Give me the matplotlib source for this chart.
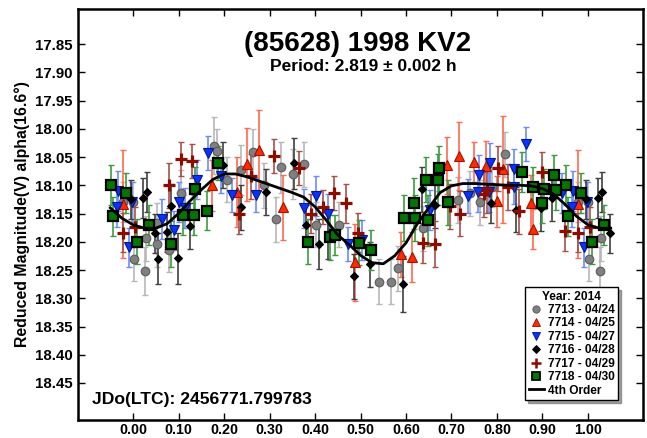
import numpy as np
import matplotlib
matplotlib.use('Agg')
import matplotlib.pyplot as plt
from matplotlib.lines import Line2D

plt.rcParams['font.family'] = ['Liberation Sans', 'DejaVu Sans']
plt.rcParams['font.weight'] = 'bold'

# session data: rotational phase, reduced magnitude, error
ph_7713 = [0.000, 0.002, 0.026, 0.029, 0.053, 0.053, 0.079, 0.105, 0.178, 0.185,
           0.207, 0.237, 0.264, 0.288, 0.314, 0.325, 0.352, 0.376, 0.402, 0.453,
           0.541, 0.567, 0.582, 0.637, 0.714, 0.740, 0.763, 0.790, 0.818, 0.978]
mag_7713 = [18.130, 18.230, 18.252, 18.194, 18.167, 18.204, 18.215, 18.113, 18.030, 18.040,
            18.090, 18.073, 18.041, 18.100, 18.160, 18.068, 18.080, 18.063, 18.170, 18.170,
            18.271, 18.271, 18.247, 18.176, 18.126, 18.114, 18.130, 18.103, 18.045, 18.130]
err_7713 = [0.035, 0.040, 0.042, 0.040, 0.035, 0.040, 0.038, 0.040, 0.050, 0.040,
            0.040, 0.045, 0.040, 0.040, 0.040, 0.045, 0.045, 0.040, 0.040, 0.040,
            0.040, 0.040, 0.040, 0.040, 0.040, 0.040, 0.040, 0.035, 0.040, 0.035]

ph_7714 = [0.173, 0.229, 0.251, 0.277, 0.330, 0.488, 0.589, 0.613, 0.690, 0.716,
           0.750, 0.776, 0.800, 0.813, 0.875, 0.879, 0.978]
mag_7714 = [18.100, 18.112, 18.063, 18.038, 18.139, 18.236, 18.222, 18.227, 18.065, 18.048,
            18.059, 18.066, 18.128, 18.072, 18.132, 18.177, 18.133]
err_7714 = [0.045, 0.062, 0.065, 0.072, 0.058, 0.068, 0.040, 0.045, 0.050, 0.060,
            0.035, 0.045, 0.045, 0.095, 0.050, 0.035, 0.095]

ph_7715 = [0.064, 0.090, 0.101, 0.114, 0.141, 0.165, 0.193, 0.218, 0.270, 0.376,
           0.402, 0.429, 0.473, 0.503, 0.653, 0.736, 0.758, 0.760, 0.782, 0.785,
           0.837, 0.837, 0.864, 0.943, 0.965, 0.967, 0.991, 0.998]
mag_7715 = [18.160, 18.180, 18.130, 18.140, 18.090, 18.043, 18.084, 18.117, 18.117, 18.141,
            18.119, 18.150, 18.204, 18.197, 18.144, 18.119, 18.112, 18.081, 18.112, 18.061,
            18.071, 18.103, 18.027, 18.114, 18.139, 18.110, 18.210, 18.130]
err_7715 = [0.035, 0.035, 0.035, 0.035, 0.035, 0.030, 0.030, 0.030, 0.030, 0.035,
            0.035, 0.035, 0.030, 0.035, 0.035, 0.030, 0.035, 0.035, 0.035, 0.035,
            0.035, 0.030, 0.030, 0.035, 0.035, 0.035, 0.035, 0.035]

ph_7716 = [0.022, 0.031, 0.048, 0.055, 0.075, 0.084, 0.099, 0.125, 0.198, 0.237,
           0.292, 0.354, 0.380, 0.409, 0.429, 0.486, 0.521, 0.593, 0.635, 0.664,
           0.787, 0.842, 0.897, 0.921, 0.995]
mag_7716 = [18.123, 18.112, 18.185, 18.230, 18.183, 18.137, 18.229, 18.172, 18.064, 18.139,
            18.112, 18.061, 18.170, 18.204, 18.190, 18.261, 18.240, 18.275, 18.107, 18.135,
            18.132, 18.143, 18.141, 18.123, 18.125]
err_7716 = [0.035, 0.035, 0.035, 0.045, 0.035, 0.040, 0.045, 0.040, 0.040, 0.040,
            0.040, 0.045, 0.035, 0.045, 0.040, 0.040, 0.040, 0.050, 0.040, 0.040,
            0.035, 0.040, 0.040, 0.040, 0.035]

ph_7717 = [0.004, 0.079, 0.105, 0.130, 0.233, 0.259, 0.310, 0.365, 0.391, 0.418,
           0.442, 0.468, 0.495, 0.637, 0.664, 0.697, 0.719, 0.771, 0.778, 0.802,
           0.824, 0.848, 0.899, 0.949, 0.978]
mag_7717 = [18.174, 18.100, 18.054, 18.057, 18.151, 18.084, 18.048, 18.070, 18.150, 18.138,
            18.114, 18.132, 18.184, 18.202, 18.204, 18.137, 18.150, 18.116, 18.109, 18.070,
            18.103, 18.146, 18.077, 18.181, 18.184]
err_7717 = [0.035, 0.040, 0.030, 0.030, 0.035, 0.040, 0.030, 0.030, 0.035, 0.030,
            0.030, 0.035, 0.035, 0.035, 0.040, 0.040, 0.040, 0.040, 0.040, 0.040,
            0.040, 0.040, 0.035, 0.035, 0.035]

ph_7718 = [0.009, 0.035, 0.084, 0.110, 0.134, 0.136, 0.162, 0.187, 0.385, 0.433,
           0.444, 0.497, 0.523, 0.596, 0.618, 0.620, 0.644, 0.648, 0.670, 0.673,
           0.692, 0.855, 0.879, 0.899, 0.903, 0.925, 0.930, 0.952, 0.956, 0.985]
mag_7718 = [18.200, 18.170, 18.204, 18.153, 18.153, 18.107, 18.145, 18.060, 18.200, 18.192,
            18.188, 18.202, 18.215, 18.158, 18.132, 18.158, 18.090, 18.162, 18.090, 18.070,
            18.130, 18.077, 18.103, 18.132, 18.107, 18.082, 18.109, 18.100, 18.155, 18.114]
err_7718 = [0.040, 0.035, 0.040, 0.035, 0.035, 0.040, 0.035, 0.030, 0.040, 0.040,
            0.035, 0.040, 0.035, 0.040, 0.045, 0.040, 0.040, 0.045, 0.045, 0.040,
            0.040, 0.035, 0.035, 0.035, 0.035, 0.035, 0.035, 0.035, 0.035, 0.035]

# 4th order fit, sampled every 0.025 in phase from -0.05 to 1.05
fit_ph = [-0.050, -0.025, 0.000, 0.025, 0.050, 0.075, 0.100, 0.125, 0.150, 0.175,
          0.200, 0.225, 0.250, 0.275, 0.300, 0.325, 0.350, 0.375, 0.400, 0.425,
          0.450, 0.475, 0.500, 0.525, 0.550, 0.575, 0.600, 0.625, 0.650, 0.675,
          0.700, 0.725, 0.750, 0.775, 0.800, 0.825, 0.850, 0.875, 0.900, 0.925,
          0.950, 0.975, 1.000, 1.025, 1.050]
fit_mag = [18.140, 18.158, 18.170, 18.176, 18.176, 18.168, 18.150, 18.128, 18.108, 18.090,
           18.080, 18.080, 18.085, 18.092, 18.099, 18.106, 18.113, 18.121, 18.138, 18.162,
           18.188, 18.205, 18.224, 18.237, 18.239, 18.225, 18.202, 18.168, 18.140, 18.113,
           18.101, 18.097, 18.097, 18.098, 18.099, 18.100, 18.100, 18.101, 18.106, 18.116,
           18.134, 18.155, 18.170, 18.176, 18.176]

sessions = ['7713 - 04/24', '7714 - 04/25', '7715 - 04/27',
            '7716 - 04/28', '7717 - 04/29', '7718 - 04/30']
y_ticks = [17.85, 17.90, 17.95, 18.00, 18.05, 18.10, 18.15, 18.20, 18.25, 18.30, 18.35, 18.40, 18.45]
x_ticks = [0.0, 0.1, 0.2, 0.3, 0.4, 0.5, 0.6, 0.7, 0.8, 0.9, 1.0]

styles = [
    dict(marker='o', ms=6.2, mfc='#808080', mec='#5c5c5c', mew=0.8, ecolor='#b8b8b8'),
    dict(marker='^', ms=7, mfc='#ff2a00', mec='#a01400', mew=0.8, ecolor='#ff6a50'),
    dict(marker='v', ms=7, mfc='#0a32ff', mec='#001890', mew=0.8, ecolor='#6a8cff'),
    dict(marker='D', ms=4.5, mfc='black', mec='black', mew=0.8, ecolor='#404040'),
    dict(marker='+', ms=8.5, mfc='#8c0c00', mec='#8c0c00', mew=2.3, ecolor='#a85048'),
    dict(marker='s', ms=6.8, mfc='#007800', mec='black', mew=1.6, ecolor='#3c9c3c'),
]


def wrap(ph, mag, err, edge=0.05):
    # repeat points near phase 0/1 on the other side of the cycle
    ph = np.asarray(ph); mag = np.asarray(mag); err = np.asarray(err)
    lo = ph < edge
    hi = ph > 1 - edge
    p = np.concatenate([ph, ph[lo] + 1, ph[hi] - 1])
    m = np.concatenate([mag, mag[lo], mag[hi]])
    e = np.concatenate([err, err[lo], err[hi]])
    return p, m, e


fig = plt.figure(figsize=(6.47, 4.38), dpi=100)
ax = fig.add_axes([78 / 647, 18 / 438, 565 / 647, 411 / 438])

data = [(ph_7713, mag_7713, err_7713), (ph_7714, mag_7714, err_7714),
        (ph_7715, mag_7715, err_7715), (ph_7716, mag_7716, err_7716),
        (ph_7717, mag_7717, err_7717), (ph_7718, mag_7718, err_7718)]

for (ph, mag, err), st in zip(data, styles):
    p, m, e = wrap(ph, mag, err)
    ax.errorbar(p, m, yerr=e, fmt='none', ecolor=st['ecolor'], elinewidth=1.2,
                capsize=2.2, capthick=1.0, zorder=2)
    ax.plot(p, m, ls='none', marker=st['marker'], ms=st['ms'], mfc=st['mfc'],
            mec=st['mec'], mew=st['mew'], zorder=3)

ax.plot(fit_ph, fit_mag, color='black', lw=2, zorder=4)

ax.set_xlim(-0.121, 1.121)
ax.set_ylim(18.5155, 17.788)
ax.set_xticks(x_ticks)
ax.set_xticklabels(['%.2f' % v for v in x_ticks])
ax.set_yticks(y_ticks)
ax.set_yticklabels(['%.2f' % v for v in y_ticks])
ax.tick_params(direction='in', length=5, width=1, top=True, right=True)
ax.tick_params(axis='y', labelsize=10.8, pad=4)
ax.tick_params(axis='x', labelsize=10.3, pad=2.5)
for lab in ax.get_xticklabels() + ax.get_yticklabels():
    lab.set_fontweight('bold')
for sp in ax.spines.values():
    sp.set_linewidth(1.8)

ax.text(0.495, 0.915, '(85628) 1998 KV2', transform=ax.transAxes,
        ha='center', va='center', fontsize=20, fontweight='bold')
ax.text(0.505, 0.861, 'Period: 2.819 \u00b1 0.002 h', transform=ax.transAxes,
        ha='center', va='center', fontsize=12.5, fontweight='bold')
ax.text(0.025, 0.049, 'JDo(LTC): 2456771.799783', transform=ax.transAxes,
        ha='left', va='center', fontsize=12.6, fontweight='bold')
fig.text(22 / 647, 1 - 214 / 438, 'Reduced Magnitude(V) alpha(16.6\u00b0)',
         rotation=90, ha='center', va='center', fontsize=11.4, fontweight='bold')

handles = []
for name, st in zip(sessions, styles):
    handles.append(Line2D([], [], ls='none', marker=st['marker'], ms=st['ms'] * 0.85,
                          mfc=st['mfc'], mec=st['mec'], mew=st['mew'] * 0.8, label=name))
handles.append(Line2D([], [], color='black', lw=2, label='4th Order'))

leg = ax.legend(handles=handles, title='Year: 2014', loc='upper left',
                bbox_to_anchor=((525 - 78) / 565, (420 - 287) / 411),
                fontsize=8.6, title_fontproperties={'weight': 'bold', 'size': 8.6},
                frameon=True, fancybox=False, shadow=True, borderpad=0.3,
                labelspacing=0.12, handlelength=1.3, handletextpad=0.3,
                borderaxespad=0)
leg.get_frame().set_edgecolor('black')
leg.get_frame().set_linewidth(1.0)
for t in leg.get_texts():
    t.set_fontweight('bold')

fig.savefig('out.png', dpi=100)
